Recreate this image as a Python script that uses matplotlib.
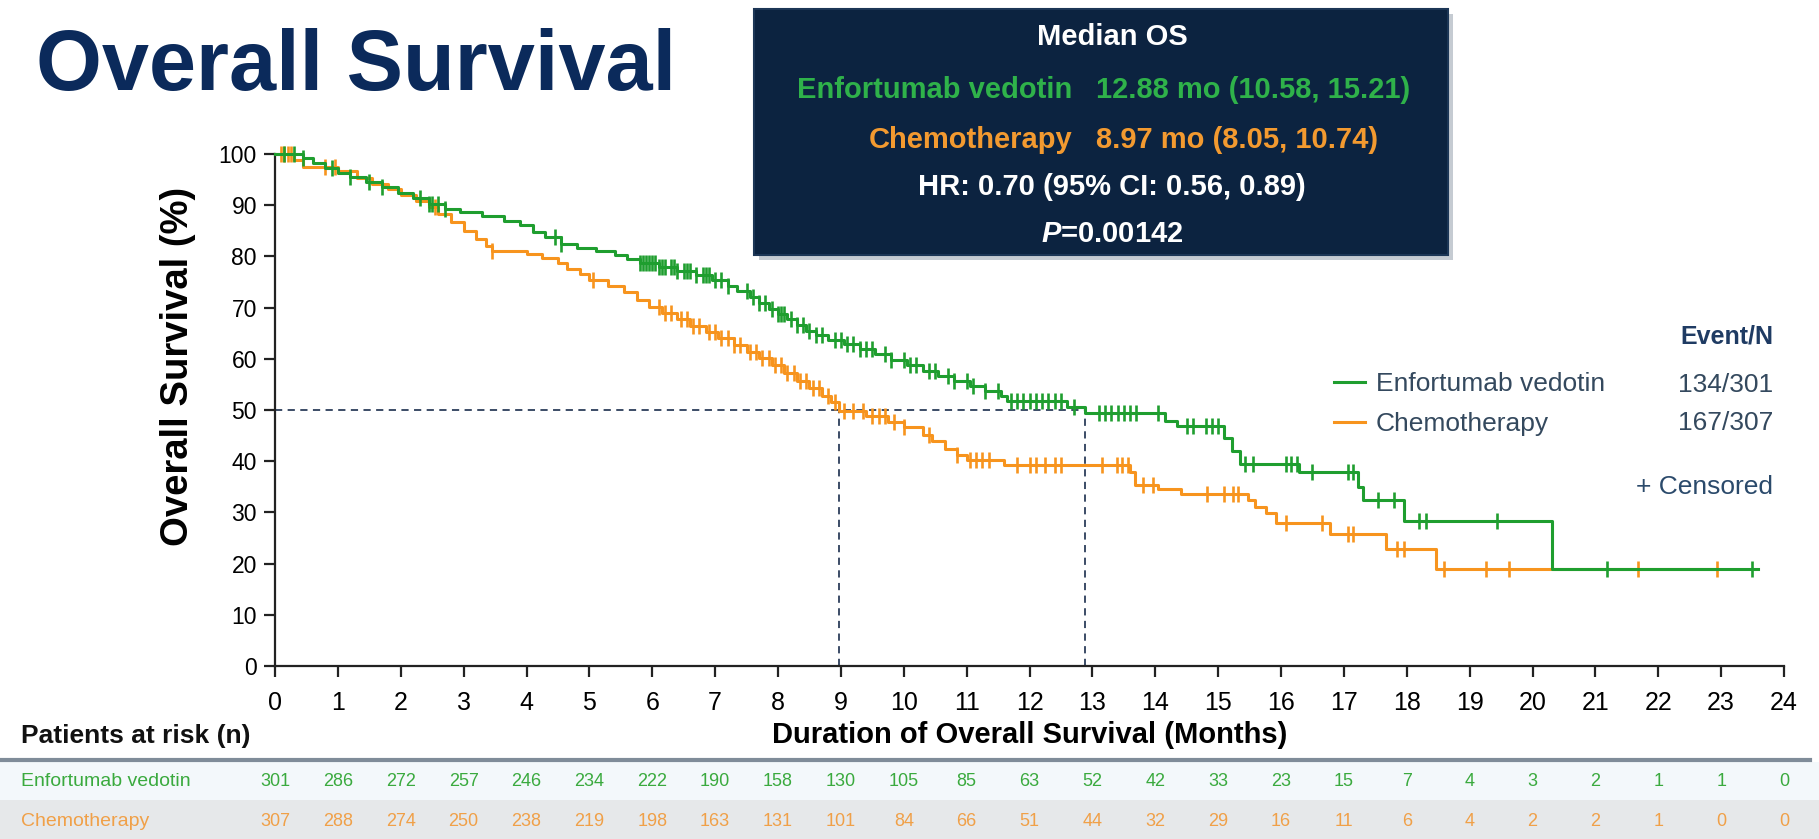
import matplotlib
matplotlib.use("Agg")
import matplotlib.pyplot as plt
import matplotlib.transforms as mtransforms
from matplotlib.patches import Rectangle
from matplotlib.lines import Line2D
import numpy as np

plt.rcParams["font.family"] = ["Liberation Sans", "DejaVu Sans"]
plt.rcParams["mathtext.fontset"] = "custom"
plt.rcParams["mathtext.it"] = "Liberation Sans:italic:bold"
plt.rcParams["mathtext.rm"] = "Liberation Sans:bold"

GREEN = "#1f9e2f"
ORANGE = "#f7941e"
NAVY = "#0b2a5b"

# Kaplan-Meier steps: time (months) and survival (%) after each step
ev_time = [0, 0.45, 0.6, 0.8, 1.0, 1.2, 1.45, 1.7, 1.95, 2.2, 2.45, 2.7, 2.95, 3.3,
           3.65, 3.9, 4.1, 4.3, 4.55, 4.8, 5.1, 5.4, 5.6, 5.8, 6.1, 6.4, 6.7, 6.95,
           7.2, 7.35, 7.55, 7.7, 7.85, 8.0, 8.15, 8.3, 8.45, 8.6, 8.8, 9.05, 9.3,
           9.55, 9.8, 10.05, 10.3, 10.55, 10.8, 11.05, 11.3, 11.55, 11.65, 12.6,
           12.88, 14.15, 14.35, 15.1, 15.22, 15.35, 16.29, 17.22, 17.3, 17.96,
           20.31, 23.59]
ev_surv = [100, 99.3, 98.3, 97.3, 96.3, 95.5, 94.6, 93.6, 92.3, 91.5, 90.3, 89.3,
           88.6, 87.8, 87.0, 86.1, 84.8, 83.8, 82.4, 81.6, 81.0, 80.2, 79.5, 78.8,
           78.0, 77.2, 76.3, 75.3, 74.3, 73.3, 72.1, 70.9, 69.8, 68.8, 67.8, 66.6,
           65.4, 64.6, 63.6, 62.9, 62.0, 60.9, 59.8, 58.8, 57.6, 56.6, 55.6, 54.7,
           53.8, 52.8, 51.8, 50.6, 49.4, 47.8, 46.8, 44.5, 42.0, 39.4, 37.8, 35.0,
           32.4, 28.3, 19.0, 19.0]
ev_cens = [0.15, 0.3, 0.45, 0.9, 1.2, 1.5, 1.7, 2.3, 2.45, 2.5, 2.6, 2.7, 4.45, 4.55,
           5.8, 5.85, 5.9, 5.95, 6.0, 6.05, 6.1, 6.15, 6.2, 6.3, 6.35, 6.4, 6.5,
           6.55, 6.6, 6.7, 6.8, 6.85, 6.9, 7.0, 7.1, 7.2, 7.5, 7.6, 7.7, 7.8, 7.9,
           8.0, 8.05, 8.1, 8.2, 8.3, 8.4, 8.5, 8.6, 8.7, 8.9, 9.0, 9.1, 9.2, 9.3,
           9.4, 9.5, 9.7, 9.8, 10.0, 10.1, 10.2, 10.4, 10.5, 10.7, 10.8, 11.0, 11.1,
           11.3, 11.5, 11.7, 11.8, 11.9, 12.0, 12.1, 12.2, 12.3, 12.4, 12.5, 12.7,
           13.1, 13.2, 13.3, 13.4, 13.5, 13.6, 13.7, 14.05, 14.5, 14.6, 14.8, 14.9,
           15.0, 15.43, 15.55, 16.08, 16.16, 16.25, 16.49, 17.06, 17.14, 17.55,
           17.8, 18.2, 18.3, 19.43, 21.18, 23.49]

chemo_time = [0, 0.3, 0.45, 1.0, 1.3, 1.55, 1.8, 2.0, 2.25, 2.45, 2.6, 2.8, 3.0, 3.2,
              3.35, 3.45, 4.0, 4.25, 4.5, 4.65, 4.85, 5.0, 5.3, 5.55, 5.75, 5.95,
              6.15, 6.4, 6.6, 6.85, 7.05, 7.3, 7.5, 7.7, 7.9, 8.1, 8.3, 8.5, 8.7,
              8.85, 8.97, 9.4, 9.75, 10.0, 10.3, 10.45, 10.65, 10.85, 11.0, 11.6,
              13.6, 13.68, 14.04, 14.41, 15.47, 15.59, 15.76, 15.92, 16.78, 17.67,
              18.47, 22.93]
chemo_surv = [100, 98.8, 97.5, 96.7, 95.3, 94.2, 93.2, 92.0, 90.8, 89.6, 88.2, 86.8,
              85.0, 83.4, 82.0, 81.0, 80.5, 79.6, 78.8, 77.5, 76.6, 75.3, 74.3, 73.0,
              71.5, 70.2, 69.0, 67.8, 66.5, 65.2, 64.0, 62.6, 61.4, 60.1, 58.8, 57.2,
              55.7, 54.2, 52.8, 51.5, 49.8, 48.8, 47.7, 46.7, 45.2, 43.9, 42.4, 41.3,
              40.2, 39.2, 37.8, 35.4, 34.6, 33.6, 32.4, 31.1, 29.8, 27.9, 25.7, 22.8,
              19.0, 19.0]
chemo_cens = [0.1, 0.15, 0.2, 0.25, 0.8, 0.95, 2.55, 3.45, 5.05, 6.1, 6.2, 6.3, 6.45,
              6.55, 6.65, 6.75, 6.9, 7.0, 7.1, 7.2, 7.3, 7.4, 7.55, 7.65, 7.75, 7.85,
              7.95, 8.05, 8.15, 8.25, 8.35, 8.45, 8.55, 8.65, 8.8, 8.9, 9.05, 9.2,
              9.35, 9.5, 9.6, 9.7, 9.85, 10.0, 10.4, 10.85, 11.05, 11.15, 11.25,
              11.35, 11.8, 12.0, 12.1, 12.25, 12.4, 12.5, 13.15, 13.39, 13.47, 13.56,
              13.8, 13.96, 14.82, 15.1, 15.23, 15.31, 16.08, 16.65, 17.06, 17.14,
              17.84, 17.96, 18.6, 19.26, 19.63, 21.67, 22.93]

ev_median = 12.88
chemo_median = 8.97

months = list(range(25))
ev_risk = [301, 286, 272, 257, 246, 234, 222, 190, 158, 130, 105, 85, 63, 52, 42,
           33, 23, 15, 7, 4, 3, 2, 1, 1, 0]
chemo_risk = [307, 288, 274, 250, 238, 219, 198, 163, 131, 101, 84, 66, 51, 44, 32,
              29, 16, 11, 6, 4, 2, 2, 1, 0, 0]

W, H = 1819, 839


def fx(px):
    return px / W


def fy(py):
    return 1 - py / H


def surv_at(times, surv, t):
    idx = np.searchsorted(times, t, side="right") - 1
    return np.asarray(surv)[idx]


fig = plt.figure(figsize=(W / 100, H / 100), dpi=100)
ax = fig.add_axes([fx(275), fy(666), (1784 - 275) / W, (666 - 154) / H])

# curves, chemo first so EV sits on top
for t, s, c, col, lab in [
    (chemo_time, chemo_surv, chemo_cens, ORANGE, "Chemotherapy"),
    (ev_time, ev_surv, ev_cens, GREEN, "Enfortumab vedotin"),
]:
    ax.step(t, s, where="post", color=col, lw=2.2, clip_on=False, label=lab, zorder=3)
    ax.plot(c, surv_at(t, s, c), ls="none", marker="|", ms=12, mew=1.9,
            color=col, clip_on=False, zorder=3)

dash = dict(color="#2c3e5a", lw=1.3, ls=(0, (4, 3)), zorder=2)
ax.plot([0, ev_median], [50, 50], **dash)
ax.plot([chemo_median, chemo_median], [0, 50], **dash)
ax.plot([ev_median, ev_median], [0, 50], **dash)

ax.set_xlim(0, 24)
ax.set_ylim(0, 100)
ax.set_xticks(months)
ax.set_yticks(range(0, 101, 10))
for side in ["top", "right"]:
    ax.spines[side].set_visible(False)
for side in ["left", "bottom"]:
    ax.spines[side].set_linewidth(1.6)
    ax.spines[side].set_color("#222222")
ax.tick_params(axis="both", direction="out", length=8, width=1.6, color="#222222")
ax.tick_params(axis="x", labelsize=18, pad=10)
ax.tick_params(axis="y", labelsize=16.5, pad=5)

ax.set_ylabel("Overall Survival (%)", fontsize=27.5, fontweight="bold")
ax.yaxis.set_label_coords((196 - 275) / 1509, 0.585)
ax.set_xlabel("Duration of Overall Survival (Months)", fontsize=21, fontweight="bold")
ax.xaxis.set_label_coords(0.5, (666 - 721) / 512)

# legend and event counts
handles, labels = ax.get_legend_handles_labels()
fig.legend(handles[::-1], labels[::-1], loc="center left",
           bbox_to_anchor=(fx(1310), fy(404)), frameon=False, fontsize=19,
           labelcolor="#34495e", handlelength=1.2, handletextpad=0.4,
           labelspacing=0.6)
fig.text(fx(1773), fy(337), "Event/N", ha="right", va="center", fontsize=18,
         fontweight="bold", color="#1f3b63")
fig.text(fx(1773), fy(385), "134/301", ha="right", va="center", fontsize=19,
         color="#34495e")
fig.text(fx(1773), fy(423), "167/307", ha="right", va="center", fontsize=19,
         color="#34495e")
fig.text(fx(1773), fy(487), "+ Censored", ha="right", va="center", fontsize=19,
         color="#2b4a6b")

# title
fig.text(fx(36), fy(90), "Overall Survival", ha="left", va="baseline", fontsize=61,
         fontweight="bold", color=NAVY)

# median OS box with shadow
bx0, bx1, by0, by1 = 754, 1448, 9, 255
fig.add_artist(Rectangle((fx(bx0 + 5), fy(by1 + 5)), (bx1 - bx0) / W, (by1 - by0) / H,
                         transform=fig.transFigure, facecolor="#8d99a6", alpha=0.5,
                         edgecolor="none", zorder=1))
fig.add_artist(Rectangle((fx(bx0), fy(by1)), (bx1 - bx0) / W, (by1 - by0) / H,
                         transform=fig.transFigure, facecolor="#0c2340",
                         edgecolor="#1c3656", lw=1.5, zorder=2))
bc = 1112
box_txt = dict(fontsize=21, fontweight="bold", va="center", zorder=3)
fig.text(fx(bc), fy(37), "Median OS", ha="center", color="white", **box_txt)
fig.text(fx(1072), fy(90), "Enfortumab vedotin", ha="right", color="#2fb24a", **box_txt)
fig.text(fx(1096), fy(90), f"{ev_median:.2f} mo (10.58, 15.21)", ha="left",
         color="#2fb24a", **box_txt)
fig.text(fx(1072), fy(140), "Chemotherapy", ha="right", color="#f39a30", **box_txt)
fig.text(fx(1096), fy(140), f"{chemo_median:.2f} mo (8.05, 10.74)", ha="left",
         color="#f39a30", **box_txt)
fig.text(fx(bc), fy(187), "HR: 0.70 (95% CI: 0.56, 0.89)", ha="center",
         color="white", **box_txt)
fig.text(fx(bc), fy(234), r"$P$=0.00142", ha="center", color="white", **box_txt)

# patients at risk table
fig.text(fx(21), fy(736), "Patients at risk (n)", ha="left", va="center",
         fontsize=19, fontweight="bold", color="#111111")
fig.add_artist(Rectangle((0, fy(800)), 1, (800 - 762) / H, transform=fig.transFigure,
                         facecolor="#f3f8fb", edgecolor="none", zorder=0))
fig.add_artist(Rectangle((0, 0), 1, (839 - 800) / H, transform=fig.transFigure,
                         facecolor="#e6e8ea", edgecolor="none", zorder=0))
fig.add_artist(Line2D([0, 0.995], [fy(760), fy(760)], transform=fig.transFigure,
                      color="#7f8c99", lw=3))

blend = mtransforms.blended_transform_factory(ax.transData, fig.transFigure)
rows = [("Enfortumab vedotin", ev_risk, "#3aaa3e", 781),
        ("Chemotherapy", chemo_risk, "#f0a048", 821)]
for name, counts, col, ypx in rows:
    fig.text(fx(21), fy(ypx), name, ha="left", va="center", fontsize=14, color=col)
    for m, n in zip(months, counts):
        ax.text(m, fy(ypx), str(n), transform=blend, ha="center", va="center",
                fontsize=13, color=col, clip_on=False)

fig.savefig("out.png", dpi=100, facecolor="white")
